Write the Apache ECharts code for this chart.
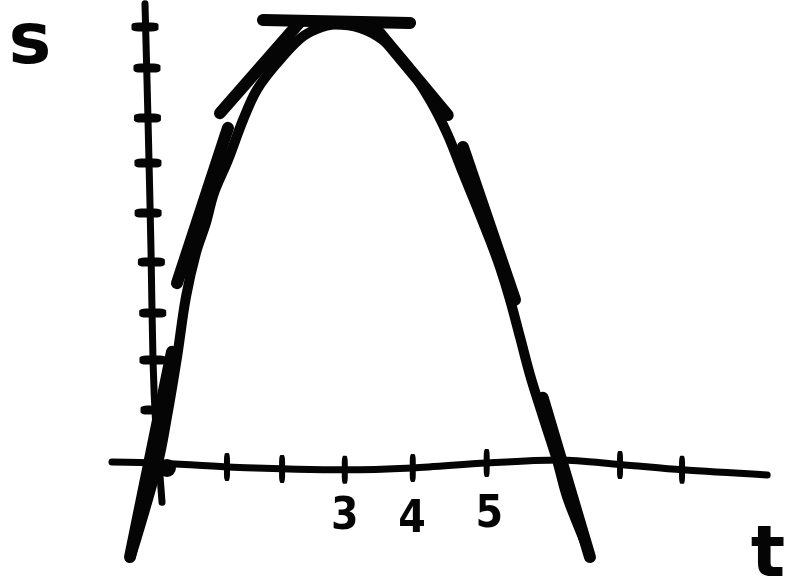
<!DOCTYPE html>
<html>
<head>
<meta charset="utf-8">
<script src="https://cdn.jsdelivr.net/npm/echarts@6/dist/echarts.min.js"></script>
<style>
  html, body { margin: 0; padding: 0; background: #ffffff; }
  #chart { width: 790px; height: 586px; }
</style>
</head>
<body>
<div id="chart"></div>
<script>
// Sketch of position s against time t: a parabola with tangent lines.

// Curve s(t), read along the drawn stroke
const curveT = [-0.394, 0, 0.136, 0.288, 0.424, 0.576, 0.727, 0.848, 1.06, 1.288, 1.5, 1.803, 2.152, 2.409, 2.682, 3.06, 3.409, 3.773, 4.121, 4.379, 4.621, 4.833, 5.03, 5.18, 5.33, 5.485, 5.636, 5.833, 6.045, 6.197, 6.394, 6.515];
const curveS = [-1.84, 0, 0.94, 2.16, 3.39, 4.29, 4.90, 5.51, 6.18, 7.0, 7.62, 8.16, 8.66, 8.86, 8.95, 8.88, 8.63, 8.12, 7.41, 6.73, 5.92, 5.22, 4.55, 4.0, 3.35, 2.57, 1.8, 0.95, 0.06, -0.69, -1.37, -1.78];

// Tangent segments, each [start, end] as [t, s]
const tangentSegments = [
  [[0.212, 2.27], [-0.424, -1.92]],
  [[0.288, 3.67], [1.06, 6.84]],
  [[0.939, 7.14], [2.15, 9.0]],
  [[1.59, 9.04], [3.82, 8.98]],
  [[3.24, 8.96], [4.39, 7.10]],
  [[4.62, 6.45], [5.41, 3.33]],
  [[5.83, 1.33], [6.545, -1.92]]
];

// Hand-drawn axes
const tAxisPoints = [[-0.697, 0.02], [0, 0], [1.045, -0.08], [2.83, -0.14], [3.86, -0.10], [4.98, 0], [6.09, 0.06], [7.0, -0.03], [7.94, -0.14], [9.23, -0.245]];
const sAxisPoints = [[-0.197, 9.37], [-0.152, 7.04], [-0.106, 4.35], [-0.076, 2.10], [-0.03, 0.67], [0.015, 0], [0.061, -0.80]];

// Tick marks on each axis
const tTicks = [[1.045, -0.08], [1.88, -0.12], [2.83, -0.14], [3.86, -0.10], [4.98, 0], [7.0, -0.04], [7.94, -0.14]];
const sTicks = [[-0.197, 8.90], [-0.167, 8.06], [-0.160, 7.04], [-0.152, 6.12], [-0.150, 5.10], [-0.100, 4.10], [-0.080, 3.06], [-0.076, 2.10], [-0.060, 1.08]];

// Numbered ticks on the t axis
const tTickLabels = ['3', '4', '5'];
const tTickLabelPos = [[2.83, -1.12], [3.85, -1.18], [5.02, -1.08]];

// Dot at the origin
const originDot = [[0.136, -0.10]];

const INK = '#050505';
const chart = echarts.init(document.getElementById('chart'), null, { renderer: 'canvas' });

const strokeSeries = (name, data, width, smooth) => ({
  name: name,
  type: 'line',
  data: data,
  smooth: smooth,
  symbol: 'none',
  silent: true,
  lineStyle: { color: INK, width: width, cap: 'round', join: 'round', opacity: 1 }
});

const dotSeries = (name, data, symbol, size) => ({
  name: name,
  type: 'scatter',
  data: data,
  silent: true,
  symbol: symbol,
  symbolSize: size,
  itemStyle: { color: INK, opacity: 1 }
});

const series = [
  strokeSeries('t axis', tAxisPoints, 7, 0.3),
  strokeSeries('s axis', sAxisPoints, 7, 0.3),
  dotSeries('t ticks', tTicks, 'roundRect', [6, 28]),
  dotSeries('s ticks', sTicks, 'roundRect', [27, 9]),
  strokeSeries('s(t)', curveT.map((t, i) => [t, curveS[i]]), 10, 0.35)
];

tangentSegments.forEach((seg, i) => {
  series.push(strokeSeries('tangent ' + (i + 1), seg, 12, false));
});

series.push(dotSeries('origin', originDot, 'circle', 18));

series.push({
  name: 't labels', type: 'scatter', silent: true, symbolSize: 1,
  itemStyle: { color: '#ffffff', opacity: 0 },
  data: tTickLabelPos.map((p, i) => ({ value: p, name: tTickLabels[i] })),
  label: {
    show: true, position: 'inside', formatter: '{b}', opacity: 1,
    color: INK, fontSize: 44, fontWeight: 'bold',
    fontFamily: '"DejaVu Sans Condensed", "DejaVu Sans", sans-serif'
  }
});

chart.setOption({
  animation: false,
  backgroundColor: '#ffffff',
  grid: { left: 26, right: 5, top: 2.4, bottom: 0.5, containLabel: false },
  xAxis: { type: 'value', min: -2, max: 9.5, show: false },
  yAxis: { type: 'value', min: -2.5, max: 9.4, show: false },
  graphic: [
    {
      type: 'text', x: 30, y: 44,
      style: {
        text: 's', fill: INK, fontSize: 72, fontWeight: 'bold',
        fontFamily: '"DejaVu Sans", sans-serif', textAlign: 'center', textVerticalAlign: 'middle'
      }
    },
    {
      type: 'text', x: 768, y: 557,
      style: {
        text: 't', fill: INK, fontSize: 72, fontWeight: 'bold',
        fontFamily: '"DejaVu Sans", sans-serif', textAlign: 'center', textVerticalAlign: 'middle'
      }
    }
  ],
  series: series
});
</script>
</body>
</html>
